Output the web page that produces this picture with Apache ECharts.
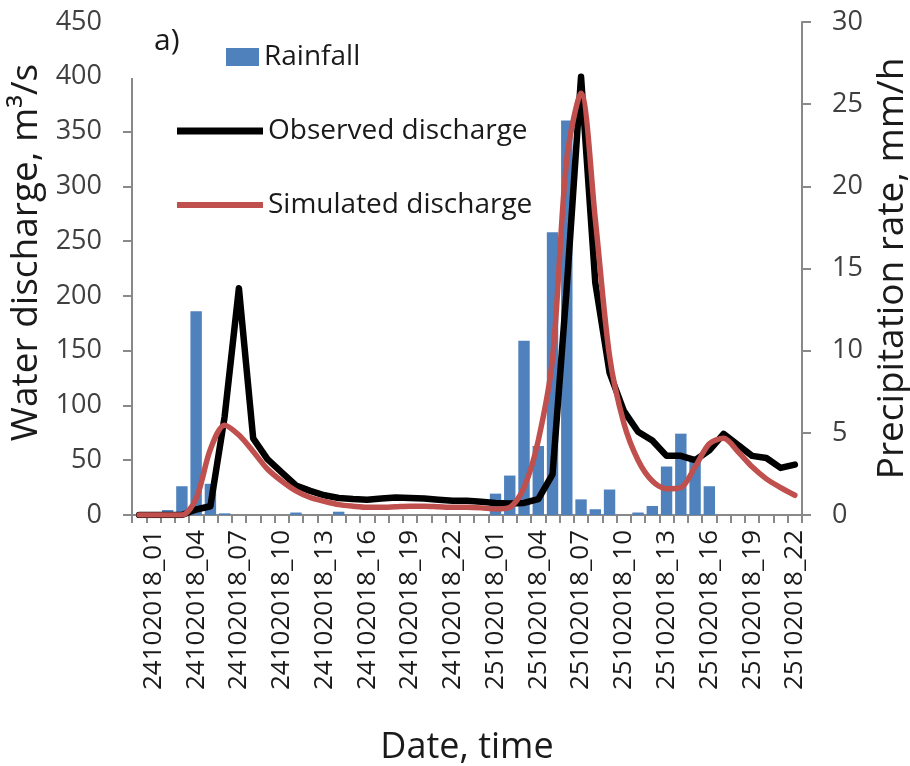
<!DOCTYPE html>
<html>
<head>
<meta charset="utf-8">
<script src="https://cdn.jsdelivr.net/npm/echarts@6/dist/echarts.min.js"></script>
<style>
  html, body { margin: 0; padding: 0; background: #fff; }
  #chart { width: 910px; height: 766px; }
</style>
</head>
<body>
<div id="chart"></div>
<script>
// hourly steps, 24.10.2018 00h .. 25.10.2018 22h
const hours24 = [];
const hours25 = [];
for (let h = 0; h < 24; h++) hours24.push('24102018_' + String(h).padStart(2, '0'));
for (let h = 0; h < 23; h++) hours25.push('25102018_' + String(h).padStart(2, '0'));
const categories = hours24.concat(hours25);

// precipitation rate, mm/h (right axis)
const rainfall = [
  0, 0, 0.3, 1.75, 12.4, 1.9, 0.1, 0, 0, 0, 0, 0.15, 0, 0, 0.2, 0, 0, 0, 0, 0, 0, 0, 0, 0,
  0, 1.3, 2.4, 10.6, 4.2, 17.2, 24.0, 0.95, 0.35, 1.55, 0, 0.15, 0.55, 2.95, 4.95, 3.55, 1.75, 0, 0, 0, 0, 0, 0
];

// water discharge, m3/s (left axis)
const observed = [
  0, 0, 0, 0, 5, 8, 90, 207, 70, 51, 39, 27, 22, 18, 15.5, 14.5, 14, 15, 16, 15.5, 15, 14, 13, 13,
  12, 11, 10.5, 11, 14.5, 37, 208, 400, 212, 130, 95, 76, 68, 54, 54, 50, 59, 74, 64, 54, 52, 43, 46
];
const simulated = [
  0, 0, 0, 0, 15, 60, 82, 73, 58, 42, 31, 22, 16, 12.5, 9.5, 8, 7, 7, 7.5, 8, 8, 7.5, 7, 7,
  6.5, 5.5, 7, 25, 68, 143, 325, 385, 270, 145, 84, 50, 31, 24, 25, 44, 65, 70, 58, 44, 33, 25, 18
];

const FONT = 'Open Sans';
const axisGrey = '#898989';

const chart = echarts.init(document.getElementById('chart'));

const legendText = { fontFamily: FONT, fontSize: 28, color: '#1a1a1a' };

const option = {
  backgroundColor: '#fff',
  animation: false,
  grid: { left: 132, right: 108, top: 22, bottom: 251, outerBoundsMode: 'none', containLabel: false },
  legend: [
    {
      data: ['Rainfall'], left: 221, top: 38, padding: 5,
      icon: 'rect', itemWidth: 33, itemHeight: 18, selectedMode: false,
      textStyle: legendText
    },
    {
      data: ['Observed discharge'], left: 172, top: 112, padding: 5,
      icon: 'rect', itemWidth: 86, itemHeight: 7, selectedMode: false,
      textStyle: legendText
    },
    {
      data: ['Simulated discharge'], left: 172, top: 186, padding: 5,
      icon: 'rect', itemWidth: 86, itemHeight: 6, selectedMode: false,
      textStyle: legendText
    }
  ],
  xAxis: {
    type: 'category',
    data: categories,
    boundaryGap: true,
    name: 'Date, time',
    nameLocation: 'middle',
    nameGap: 215,
    nameTextStyle: { fontFamily: FONT, fontSize: 36, color: '#1a1a1a' },
    axisLine: { lineStyle: { color: axisGrey, width: 2 } },
    axisTick: { show: true, interval: 0, length: 8, lineStyle: { color: axisGrey, width: 2 } },
    axisLabel: {
      interval: (i) => i % 3 === 1,
      rotate: 90,
      margin: 15,
      fontFamily: FONT,
      fontSize: 26,
      color: '#1a1a1a'
    },
    splitLine: { show: false }
  },
  yAxis: [
    {
      type: 'value',
      position: 'left',
      min: 0, max: 450, interval: 50,
      name: 'Water discharge, m\u00B3/s',
      nameLocation: 'middle',
      nameGap: 71,
      nameTextStyle: { fontFamily: FONT, fontSize: 37, color: '#1a1a1a', padding: [0, 0, 0, 32] },
      axisLine: { show: true, lineStyle: { color: axisGrey, width: 2 } },
      axisTick: { show: true, length: 9, lineStyle: { color: axisGrey, width: 2 } },
      axisLabel: { margin: 30, fontFamily: FONT, fontSize: 27, color: '#404040' },
      splitLine: { show: false }
    },
    {
      type: 'value',
      position: 'right',
      min: 0, max: 30, interval: 5,
      name: 'Precipitation rate, mm/h',
      nameLocation: 'middle',
      nameGap: 70,
      nameTextStyle: { fontFamily: FONT, fontSize: 37, color: '#1a1a1a' },
      axisLine: { show: true, lineStyle: { color: axisGrey, width: 2 } },
      axisTick: { show: true, length: 9, lineStyle: { color: axisGrey, width: 2 } },
      axisLabel: { margin: 30, fontFamily: FONT, fontSize: 27, color: '#404040' },
      splitLine: { show: false }
    }
  ],
  graphic: [
    // white patch that hides the top of the left axis, as in the original
    { type: 'rect', z: 100, shape: { x: 120, y: 0, width: 24, height: 78 }, style: { fill: '#fff' } },
    { type: 'text', z: 101, left: 154, top: 26, style: { text: 'a)', fontFamily: FONT, fontSize: 30, fill: '#1a1a1a' } }
  ],
  series: [
    {
      name: 'Rainfall',
      type: 'bar',
      yAxisIndex: 1,
      data: rainfall,
      barCategoryGap: '20%',
      color: '#4F81BD',
      itemStyle: { color: '#4F81BD' },
      z: 1
    },
    {
      name: 'Observed discharge',
      type: 'line',
      yAxisIndex: 0,
      data: observed,
      color: '#000000',
      symbol: 'none',
      smooth: false,
      lineStyle: { color: '#000000', width: 6.5, cap: 'round', join: 'round' },
      z: 3
    },
    {
      name: 'Simulated discharge',
      type: 'line',
      yAxisIndex: 0,
      data: simulated,
      color: '#C0504D',
      symbol: 'none',
      smooth: 0.3,
      lineStyle: { color: '#C0504D', width: 5.5, cap: 'round', join: 'round' },
      z: 4
    }
  ]
};

chart.setOption(option);
</script>
</body>
</html>
